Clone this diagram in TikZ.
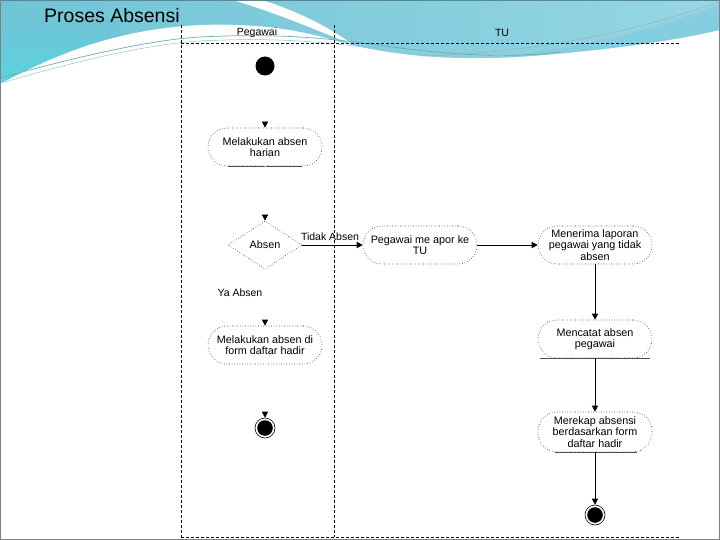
\documentclass[tikz,border=0pt]{standalone}
\usepackage{fontspec}
\setmainfont{Liberation Sans}
\usetikzlibrary{arrows.meta,shapes.geometric}
\definecolor{bluel}{RGB}{112,196,214}
\definecolor{bluer}{RGB}{150,214,228}
\definecolor{bluec}{RGB}{90,212,222}
\definecolor{swline}{RGB}{110,170,180}
\definecolor{bandb}{RGB}{80,185,210}
\definecolor{dotc}{RGB}{40,40,40}
\tikzset{
  lanefont/.style={font=\fontsize{10.5}{11}\selectfont},
  act/.style={draw=dotc, dotted, line width=0.6pt, rounded corners=19pt,
    minimum width=114pt, minimum height=38pt, align=center,
    font=\fontsize{10.8}{11.5}\selectfont, inner sep=1pt},
  dec/.style={draw=dotc, dotted, line width=0.6pt, diamond, aspect=1.55,
    minimum width=74pt, minimum height=48pt, inner sep=0pt,
    font=\fontsize{10.8}{11.5}\selectfont},
  flow/.style={draw=black, line width=0.6pt, -{Triangle[length=6pt,width=6pt]}},
  tiponly/.style={draw=white, line width=0.6pt, -{Triangle[length=6pt,width=6pt,color=black]}},
  lane/.style={draw=black, densely dashed, line width=0.6pt},
  startnode/.style={circle, fill=black, minimum size=19pt, inner sep=0pt},
  endnode/.style={circle, draw=black, line width=0.6pt, fill=white, minimum size=20pt, inner sep=0pt,
    path picture={\fill[black] (path picture bounding box.center) circle (7.8pt);}},
  basel/.style={draw=black!70, line width=0.8pt}
}
\begin{document}
\begin{tikzpicture}[x=1pt,y=-1pt]
\useasboundingbox (0,0) rectangle (720,540);
% background
\fill[white] (0,0) rectangle (720,540);
\shade[left color=bluel, right color=bluer] (0,0) rectangle (720,95);
\shade[top color=bluel, bottom color=bluec] (0,20) rectangle (120,85);
\fill[bandb!70] (500,57) .. controls (600,45) and (660,25) .. (720,5) -- (720,32) .. controls (660,42) and (600,52) .. (520,57) -- cycle;
\fill[white] (0,84) .. controls (60,52) and (120,29) .. (200,25)
  .. controls (260,23) and (300,30) .. (340,42)
  .. controls (400,58) and (460,60) .. (520,57)
  .. controls (600,51) and (670,42) .. (720,30)
  -- (720,540) -- (0,540) -- cycle;
\fill[white] (232,0) -- (262,0) .. controls (300,12) and (330,28) .. (352,44)
  .. controls (315,30) and (275,12) .. (232,0) -- cycle;
\draw[swline, line width=0.7pt] (0,78) .. controls (80,56) and (150,40) .. (200,37)
  .. controls (280,33) and (330,38) .. (400,48) .. controls (470,57) and (520,57) .. (560,52);
\draw[swline!70, line width=0.5pt] (5,82) .. controls (80,60) and (150,44) .. (200,41)
  .. controls (280,37) and (330,42) .. (400,52) .. controls (450,58) and (480,58) .. (500,57);
\draw[swline!80, line width=0.6pt] (420,56) .. controls (560,52) and (650,25) .. (720,2);
\draw[swline!60, line width=0.5pt] (470,58) .. controls (580,50) and (660,25) .. (720,8);
\draw[swline!80!black, line width=1.2pt] (0,0.6) -- (720,0.6);
\draw[gray, line width=1.2pt] (0.6,0) -- (0.6,539.4) -- (719.4,539.4) -- (719.4,0);
% title
\node[anchor=west, font=\fontsize{19.5}{21}\selectfont, inner sep=0pt] (title) at (44,16) {Proses Absensi};
% swimlanes
\coordinate (l1t) at (181,25); \coordinate (l1b) at (181,537);
\coordinate (l2t) at (334,25); \coordinate (l2b) at (334,537);
\coordinate (ht1) at (181,43); \coordinate (ht2) at (680,43);
\coordinate (hb1) at (181,537); \coordinate (hb2) at (680,537);
\draw[lane] (l1t) -- (l1b);
\draw[lane] (l2t) -- (l2b);
\draw[lane] (ht1) -- (ht2);
\draw[lane] (hb1) -- (hb2);
\node[lanefont] (pegawai) at (257,33) {Pegawai};
\node[lanefont] (tu) at (502,33) {TU};
% nodes
\node[startnode] (start) at (265,66) {};
\node[act] (a1) at (265,147) {Melakukan absen\\harian};
\node[dec] (d1) at (265,245) {Absen};
\node[act] (a6) at (265,345) {Melakukan absen di\\form daftar hadir};
\node[endnode] (end1) at (265,428) {};
\node[act] (a2) at (420,245) {Pegawai me apor ke\\TU};
\node[act] (a3) at (595,245) {Menerima laporan\\pegawai yang tidak\\absen};
\node[act] (a4) at (595,339) {Mencatat absen\\pegawai};
\node[act, minimum height=40pt] (a5) at (595,432) {Merekap absensi\\berdasarkan form\\daftar hadir};
\node[endnode] (end2) at (595,515) {};
% solid bases
\draw[basel] ([xshift=-37pt]a1.south) -- ([xshift=37pt]a1.south);
\draw[basel] ([xshift=-55pt]a4.south) -- ([xshift=55pt]a4.south);
\draw[basel] ([xshift=-40pt]a5.south) -- ([xshift=42pt]a5.south);
% connectors
\draw[tiponly] (start) -- (a1);
\draw[tiponly] (a1) -- (d1);
\draw[tiponly] (d1) -- (a6);
\draw[tiponly] (a6) -- (end1);
\draw[flow] (d1.east) -- (a2.west);
\node[lanefont] (lt) at (330,237) {Tidak Absen};
\node[lanefont, anchor=west] (ya) at (214,293) {Ya Absen};
\draw[flow] (a2.east) -- (a3.west);
\draw[flow] (a3) -- (a4);
\draw[flow] (a4) -- (a5);
\draw[flow] (a5) -- (end2);
\end{tikzpicture}
\end{document}
